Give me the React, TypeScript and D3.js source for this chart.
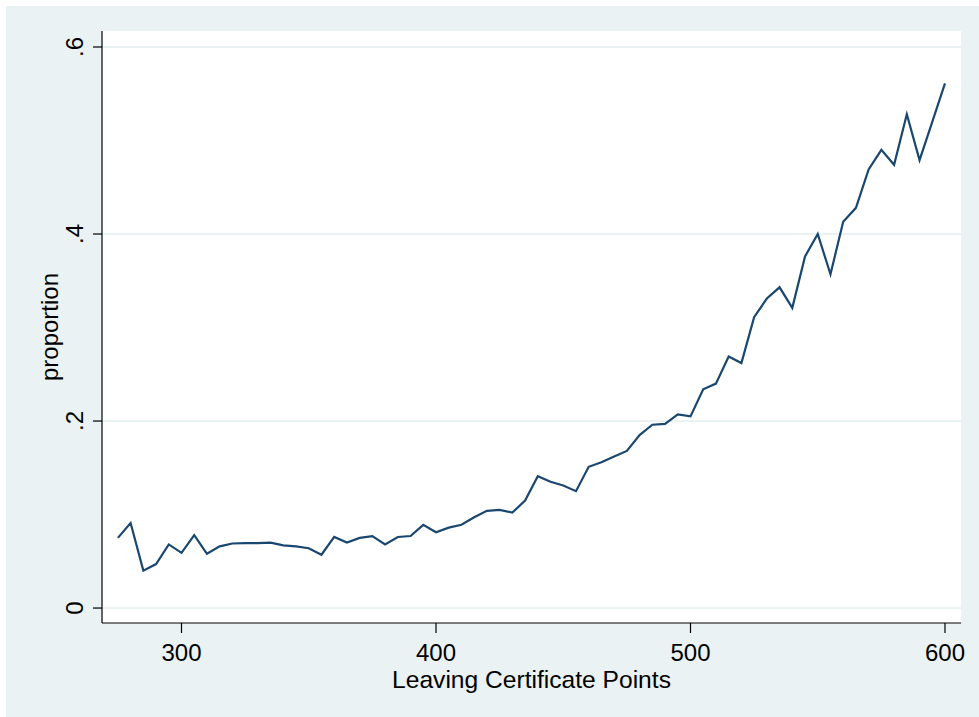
import React from "react";
import * as d3 from "d3";

const points: number[] = [
  275, 280, 285, 290, 295, 300, 305, 310, 315, 320, 325, 330, 335, 340, 345, 350,
  355, 360, 365, 370, 375, 380, 385, 390, 395, 400, 405, 410, 415, 420, 425, 430,
  435, 440, 445, 450, 455, 460, 465, 470, 475, 480, 485, 490, 495, 500, 505, 510,
  515, 520, 525, 530, 535, 540, 545, 550, 555, 560, 565, 570, 575, 580, 585, 590,
  595, 600,
];
const proportion: number[] = [
  0.075, 0.091, 0.04, 0.047, 0.068, 0.059, 0.078, 0.058, 0.066, 0.069, 0.0695, 0.0695, 0.07, 0.067, 0.066, 0.064,
  0.057, 0.076, 0.07, 0.075, 0.077, 0.068, 0.076, 0.077, 0.089, 0.081, 0.086, 0.089, 0.097, 0.104, 0.105, 0.102,
  0.115, 0.141, 0.135, 0.131, 0.125, 0.151, 0.156, 0.162, 0.168, 0.185, 0.196, 0.197, 0.207, 0.205, 0.234, 0.24,
  0.269, 0.262, 0.311, 0.331, 0.343, 0.321, 0.376, 0.4, 0.357, 0.413, 0.428, 0.469, 0.49, 0.474, 0.528, 0.479,
  0.52, 0.561,
];
const xTicks: number[] = [300, 400, 500, 600];
const yTicks: number[] = [0, 0.2, 0.4, 0.6];
const yTickLabels: string[] = ["0", ".2", ".4", ".6"];
const xTitle = "Leaving Certificate Points";
const yTitle = "proportion";

const W = 979;
const H = 717;
const PL = 102;
const PR = 961;
const PT = 31;
const PB = 623;
const BG = "#eaf2f3";
const LINE = "#1a476f";
const FONT = "'Liberation Sans', Arial, Helvetica, sans-serif";

export default function App() {
  const x = d3.scaleLinear().domain([268.76, 606.29]).range([PL, PR]);
  const y = d3.scaleLinear().domain([-0.016, 0.6171]).range([PB, PT]);
  const data = points.map((p, i) => [p, proportion[i]] as [number, number]);
  const line = d3
    .line<[number, number]>()
    .x((d) => x(d[0]))
    .y((d) => y(d[1]));

  return (
    <svg
      width={W}
      height={H}
      style={{ position: "absolute", left: 0, top: 0, display: "block" }}
      fontFamily={FONT}
    >
      <rect x={0} y={0} width={W} height={H} fill="#ffffff" />
      <rect x={6} y={6} width={W - 6} height={H - 6} fill={BG} />
      <rect x={PL} y={PT} width={PR - PL} height={PB - PT} fill="#ffffff" />
      {yTicks.map((t) => (
        <line key={"g" + t} x1={PL} x2={PR} y1={y(t)} y2={y(t)} stroke={BG} strokeWidth={1.8} />
      ))}
      <path d={line(data) || ""} fill="none" stroke={LINE} strokeWidth={2.2} strokeLinejoin="miter" />
      <line x1={PL} x2={PL} y1={PT} y2={PB} stroke="#000" strokeWidth={1.2} />
      <line x1={PL} x2={PR} y1={PB} y2={PB} stroke="#000" strokeWidth={1.2} />
      {yTicks.map((t, i) => (
        <g key={"yt" + t}>
          <line x1={PL - 9} x2={PL} y1={y(t)} y2={y(t)} stroke="#000" strokeWidth={1.2} />
          <text
            transform={`translate(83,${y(t)}) rotate(-90)`}
            textAnchor="middle"
            fontSize={24}
            fill="#000"
          >
            {yTickLabels[i]}
          </text>
        </g>
      ))}
      {xTicks.map((t) => (
        <g key={"xt" + t}>
          <line x1={x(t)} x2={x(t)} y1={PB} y2={PB + 10} stroke="#000" strokeWidth={1.2} />
          <text x={x(t)} y={661} textAnchor="middle" fontSize={24} fill="#000">
            {t}
          </text>
        </g>
      ))}
      <text x={(PL + PR) / 2} y={688} textAnchor="middle" fontSize={24.6} fill="#000">
        {xTitle}
      </text>
      <text
        transform={`translate(58,${(PT + PB) / 2}) rotate(-90)`}
        textAnchor="middle"
        fontSize={24}
        fill="#000"
      >
        {yTitle}
      </text>
    </svg>
  );
}
